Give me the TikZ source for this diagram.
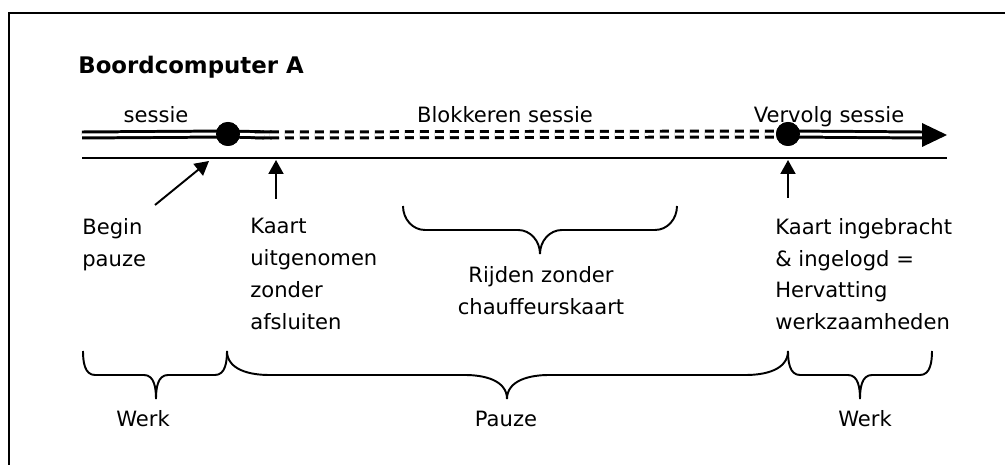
\documentclass[tikz,border=0pt]{standalone}
\usepackage{fontspec}
\setmainfont{DejaVu Sans}
\usetikzlibrary{arrows.meta}
\tikzset{
>={Triangle[length=0.28cm,width=0.3cm]},
pijl/.style={->,line width=1.1pt},
tijdlijn/.style={line width=1.1pt},
spoor/.style={double,double distance=1.7pt,line width=1.7pt},
blokkering/.style={spoor,dash pattern=on 0.18cm off 0.12cm},
punt/.style={circle,fill,inner sep=0pt,minimum size=0.48cm},
tekst/.style={inner sep=0pt,align=left,font=\fontsize{12}{18.1}\selectfont},
accolade lijn/.style={line width=1.1pt}}

% accolade: links, rechts, punt, bovenkant, kromming
\newcommand{\accolade}[5]{%
\draw[accolade lijn] (#1,#4) to[out=-90,in=180] (#1+#5,#4+24) -- (#3-#5,#4+24)
  to[out=0,in=90] (#3,#4+48) to[out=90,in=180] (#3+#5,#4+24) -- (#2-#5,#4+24)
  to[out=0,in=-90] (#2,#4);}

\begin{document}
\begin{tikzpicture}[x=0.02cm,y=-0.02cm]
\useasboundingbox (0,0) rectangle (1005,465);
\draw[line width=1.3pt] (9,465) -- (9,13) -- (1005,13);

\node[tekst,anchor=base west,font=\fontsize{13}{16}\selectfont\bfseries] (titel) at (78,74) {Boordcomputer A};

% tijdlijn met sessies
\coordinate (start) at (82,135);
\coordinate (eindsessie) at (272,135);
\coordinate (startblok) at (255,135);
\coordinate (pv) at (922,135);
\coordinate (eind) at (947,135);
\coordinate (as0) at (82,158);
\coordinate (as1) at (947,158);
\node[punt] (p1) at (228,134) {};
\node[punt] (p2) at (788,134) {};

\draw[tijdlijn] (as0) -- (as1);
\draw[spoor] (start) -- (p1.center) -- (eindsessie);
\draw[blokkering] (startblok) -- (p2.center);
\draw[spoor] (p2.center) -- (pv);
\fill ([yshift=0.24cm]pv) -- (eind) -- ([yshift=-0.24cm]pv) -- cycle;
\node[punt] at (p1) {};
\node[punt] at (p2) {};

\node[tekst,anchor=base] (sessie) at (156,123) {sessie};
\node[tekst,anchor=base] (blok) at (505,123) {Blokkeren sessie};
\node[tekst,anchor=base] (vervolg) at (829,123) {Vervolg sessie};

% pijlen naar de tijdlijn
\coordinate (vb) at (155,205);
\coordinate (tb) at (209,161);
\coordinate (vk) at (276,199);
\coordinate (tk) at (276,160);
\coordinate (vh) at (788,198);
\coordinate (th) at (788,160);
\path[pijl] (vb) edge (tb);
\path[pijl] (vk) edge (tk);
\path[pijl] (vh) edge (th);

\node[tekst,anchor=north west] (begin) at (82,218) {Begin\\pauze};
\node[tekst,anchor=north west] (uit) at (250,218) {Kaart\\uitgenomen\\zonder\\afsluiten};
\node[tekst,anchor=north west] (in) at (775,218) {Kaart ingebracht\\\& ingelogd =\\Hervatting\\werkzaamheden};

\accolade{403}{677}{540}{206}{22}
\node[tekst,anchor=north,align=center] (rijden) at (541,266) {Rijden zonder\\chauffeurskaart};

% werk en pauze
\accolade{83}{227}{156}{351}{12}
\accolade{227}{788}{507}{351}{42}
\accolade{788}{932}{860}{351}{12}
\node[tekst,anchor=base] (werk1) at (143,427) {Werk};
\node[tekst,anchor=base] (pauze) at (506,427) {Pauze};
\node[tekst,anchor=base] (werk2) at (865,427) {Werk};

\end{tikzpicture}
\end{document}
